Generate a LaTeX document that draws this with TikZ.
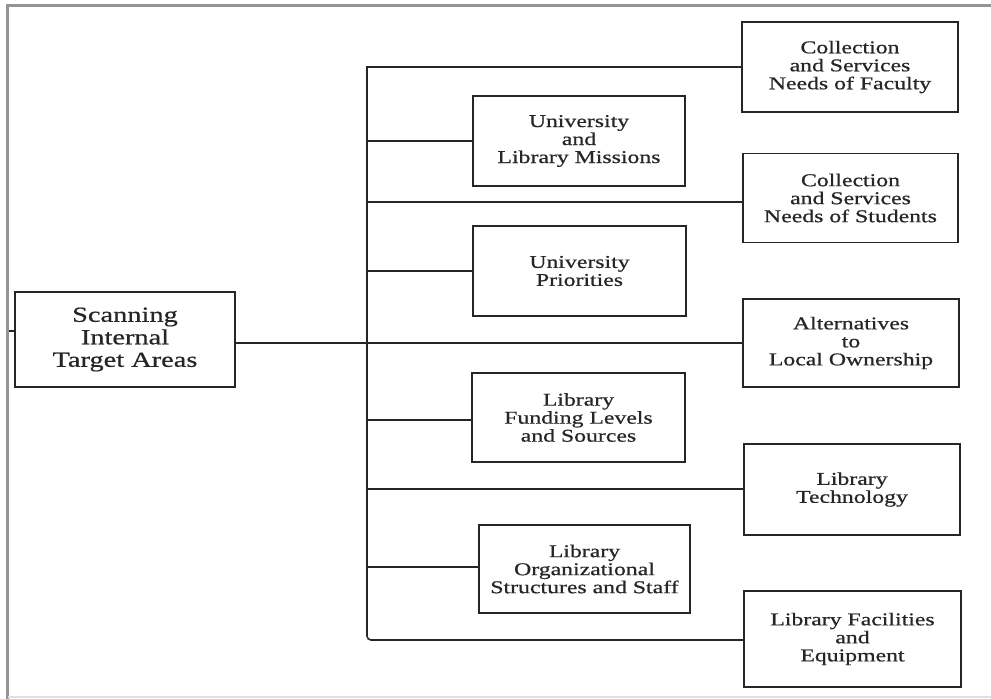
\documentclass[tikz,border=0pt]{standalone}
\usepackage{fontspec}
\setmainfont{Liberation Serif}[FakeStretch=1.32,FakeBold=0.7]
\begin{document}
\begin{tikzpicture}[x=1pt,y=-1pt,
  box/.style={draw=black!85, line width=1.8pt, text=black!85, align=center,
    inner sep=0pt, font=\fontsize{18}{18}\selectfont},
  bigbox/.style={box, font=\fontsize{21.5}{22.5}\selectfont},
  link/.style={draw=black!85, line width=1.6pt},
  frame/.style={draw=black!42, line width=2.6pt}]
\useasboundingbox (0,0) rectangle (991,699);
% outer frame
\draw[frame] (7.5,699) -- (7.5,5.5) -- (991,5.5);
\draw[draw=black!12, line width=1.5pt] (7.5,697) -- (991,697);
% nodes
\node[bigbox, minimum width=220, minimum height=95] (scan) at (125,339.5) {Scanning\\Internal\\Target Areas};
\node[box, minimum width=216, minimum height=90] (fac) at (850,67) {Collection\\and Services\\Needs of Faculty};
\node[box, minimum width=215, minimum height=89] (stu) at (850.5,198) {Collection\\and Services\\Needs of Students};
\node[box, minimum width=216, minimum height=88] (alt) at (851,343) {Alternatives\\to\\Local Ownership};
\node[box, minimum width=216, minimum height=91] (tech) at (852,489.5) {Library\\Technology};
\node[box, minimum width=217, minimum height=96] (facil) at (852.5,639) {Library Facilities\\and\\Equipment};
\node[box, minimum width=212, minimum height=90] (mis) at (579,141) {University\\and\\Library Missions};
\node[box, minimum width=213, minimum height=90] (pri) at (579.5,271) {University\\Priorities};
\node[box, minimum width=213, minimum height=89] (fund) at (578.5,417.5) {Library\\Funding Levels\\and Sources};
\node[box, minimum width=211, minimum height=88] (org) at (584.5,569) {Library\\Organizational\\Structures and Staff};
% trunk
\coordinate (ttop) at (367,67);
\coordinate (tbot) at (367,640);
\coordinate (tick) at (8.5,331);
\draw[link] (tick) -- (tick -| scan.west);
\draw[link] (fac.west) -- (ttop) -- ([yshift=20pt]tbot);
\draw[link, rounded corners=4pt] ([yshift=30pt]tbot) -- (tbot) -- (tbot -| facil.west);
% branches
\draw[link] (scan.east |- alt.west) -- (alt.west);
\draw[link] (ttop |- mis.west) -- (mis.west);
\draw[link] ([yshift=-4pt]stu.west -| ttop) -- ([yshift=-4pt]stu.west);
\draw[link] (ttop |- pri.west) -- (pri.west);
\draw[link] ([yshift=-2.5pt]fund.west -| ttop) -- ([yshift=-2.5pt]fund.west);
\draw[link] ([yshift=0.5pt]tech.west -| ttop) -- ([yshift=0.5pt]tech.west);
\draw[link] ([yshift=2pt]org.west -| ttop) -- ([yshift=2pt]org.west);
\end{tikzpicture}
\end{document}
